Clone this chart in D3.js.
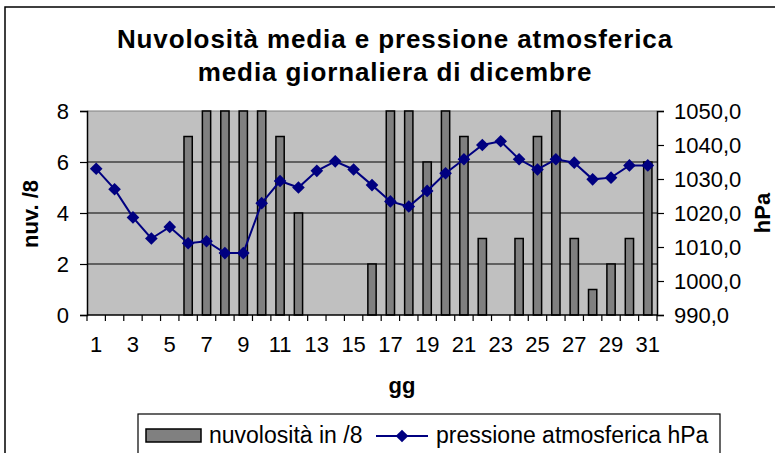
<!DOCTYPE html>
<html>
<head>
<meta charset="utf-8">
<script src="https://cdn.jsdelivr.net/npm/d3@7"></script>
<style>
  body { margin: 0; background: #fff; }
  text { font-family: "Liberation Sans", Arial, sans-serif; }
</style>
</head>
<body>
<script>
// day numbers, cloud cover (eighths) and mean pressure (hPa)
const days = d3.range(1, 32);
const clouds = [0, 0, 0, 0, 0, 7, 8, 8, 8, 8, 7, 4, 0, 0, 0, 2,
                8, 8, 6, 8, 7, 3, 0, 3, 7, 8, 3, 1, 2, 3, 6];
const pressure = [1033, 1027, 1018.7, 1012.5, 1015.9, 1011.1, 1011.7, 1008.2, 1008.2, 1022.9,
                  1029.4, 1027.5, 1032.4, 1035.2, 1032.8, 1028.2, 1023.4, 1021.9, 1026.5, 1031.7,
                  1035.8, 1040, 1041.1, 1035.8, 1032.8, 1035.8, 1034.8, 1029.9, 1030.4, 1034, 1034];
const leftTicks = [0, 2, 4, 6, 8];
const rightTicks = [990, 1000, 1010, 1020, 1030, 1040, 1050];

const W = 775, H = 453;
const plot = { left: 87, right: 657, top: 111, bottom: 315 };

const svg = d3.select("body").append("svg")
    .attr("width", W)
    .attr("height", H);

// outer chart border (runs off the right and bottom edges)
svg.append("rect")
    .attr("x", 5).attr("y", 7)
    .attr("width", 800).attr("height", 500)
    .attr("fill", "none").attr("stroke", "#000").attr("stroke-width", 1.5);

const x = d3.scaleBand()
    .domain(days)
    .range([plot.left, plot.right])
    .padding(0);

const y = d3.scaleLinear().domain([0, 8]).range([plot.bottom, plot.top]);
const y2 = d3.scaleLinear().domain([990, 1050]).range([plot.bottom, plot.top]);

// plot background
svg.append("rect")
    .attr("x", plot.left).attr("y", plot.top)
    .attr("width", plot.right - plot.left).attr("height", plot.bottom - plot.top)
    .attr("fill", "#c0c0c0");

// gridlines
svg.append("g")
    .selectAll("line")
    .data(leftTicks.slice(1))
    .enter().append("line")
    .attr("x1", plot.left).attr("x2", plot.right)
    .attr("y1", d => y(d)).attr("y2", d => y(d))
    .attr("stroke", d => d === 8 ? "#808080" : "#000")
    .attr("stroke-width", 1.2);

// bars
const barW = x.bandwidth() * 0.45;
svg.append("g")
    .selectAll("rect")
    .data(days.filter((d, i) => clouds[i] > 0))
    .enter().append("rect")
    .attr("x", d => x(d) + (x.bandwidth() - barW) / 2)
    .attr("y", d => y(clouds[d - 1]))
    .attr("width", barW)
    .attr("height", d => y(0) - y(clouds[d - 1]))
    .attr("fill", "#808080")
    .attr("stroke", "#000")
    .attr("stroke-width", 1.5);

// left axis
const axLeft = svg.append("g")
    .attr("transform", `translate(${plot.left},0)`)
    .call(d3.axisLeft(y).tickValues(leftTicks).tickSize(7).tickPadding(11));
// right axis
const axRight = svg.append("g")
    .attr("transform", `translate(${plot.right},0)`)
    .call(d3.axisRight(y2).tickValues(rightTicks).tickSize(7).tickPadding(10)
        .tickFormat(d => d3.format(".1f")(d).replace(".", ",")));
// bottom axis: labels on odd days
const axBottom = svg.append("g")
    .attr("transform", `translate(0,${plot.bottom})`)
    .call(d3.axisBottom(x).tickValues(days.filter(d => d % 2 === 1)).tickSize(0).tickPadding(21));

[axLeft, axRight, axBottom].forEach(g => {
    g.select(".domain").attr("stroke", "#000").attr("stroke-width", 1.5);
    g.selectAll(".tick line").attr("stroke", "#000").attr("stroke-width", 1.2);
    g.selectAll(".tick text").attr("font-size", 22).attr("fill", "#000")
        .style("font-family", "'Liberation Sans', Arial, sans-serif");
});
axBottom.select(".domain").attr("d", `M${plot.left},0H${plot.right}`);

// x tick marks between categories
svg.append("g")
    .selectAll("line")
    .data(days.map(d => x(d)).concat([plot.right]))
    .enter().append("line")
    .attr("x1", d => d).attr("x2", d => d)
    .attr("y1", plot.bottom).attr("y2", plot.bottom + 6)
    .attr("stroke", "#000").attr("stroke-width", 1.2);

// pressure line
const cx = d => x(d) + x.bandwidth() / 2;
svg.append("path")
    .datum(days)
    .attr("fill", "none")
    .attr("stroke", "#000080")
    .attr("stroke-width", 2)
    .attr("d", d3.line().x(cx).y(d => y2(pressure[d - 1])));

const diamond = d3.symbol().type(d3.symbolSquare).size(80);
svg.append("g")
    .selectAll("path")
    .data(days)
    .enter().append("path")
    .attr("d", diamond)
    .attr("transform", d => `translate(${cx(d)},${y2(pressure[d - 1])}) rotate(45)`)
    .attr("fill", "#000080");

// title
const title = svg.append("text")
    .attr("text-anchor", "middle")
    .attr("font-size", 26)
    .attr("font-weight", "bold")
    .attr("letter-spacing", 0.9);
title.append("tspan").attr("x", 395).attr("y", 48).text("Nuvolosità media e pressione atmosferica");
title.append("tspan").attr("x", 395).attr("y", 81).text("media giornaliera di dicembre");

// axis titles
svg.append("text")
    .attr("x", 402).attr("y", 393)
    .attr("text-anchor", "middle")
    .attr("font-size", 22).attr("font-weight", "bold")
    .text("gg");

svg.append("text")
    .attr("transform", "translate(38,214) rotate(-90)")
    .attr("text-anchor", "middle")
    .attr("font-size", 22).attr("font-weight", "bold")
    .text("nuv. /8");

svg.append("text")
    .attr("transform", "translate(770,213) rotate(-90)")
    .attr("text-anchor", "middle")
    .attr("font-size", 22).attr("font-weight", "bold")
    .text("hPa");

// legend
const legend = svg.append("g");
legend.append("rect")
    .attr("x", 138).attr("y", 414)
    .attr("width", 582).attr("height", 60)
    .attr("fill", "#fff").attr("stroke", "#000").attr("stroke-width", 1.2);
legend.append("rect")
    .attr("x", 146).attr("y", 429)
    .attr("width", 55).attr("height", 13)
    .attr("fill", "#808080").attr("stroke", "#000").attr("stroke-width", 1.5);
legend.append("text")
    .attr("x", 209).attr("y", 443)
    .attr("font-size", 23)
    .text("nuvolosità in /8");
legend.append("line")
    .attr("x1", 376).attr("x2", 428)
    .attr("y1", 436).attr("y2", 436)
    .attr("stroke", "#000080").attr("stroke-width", 2);
legend.append("path")
    .attr("d", diamond)
    .attr("transform", "translate(402,436) rotate(45)")
    .attr("fill", "#000080");
legend.append("text")
    .attr("x", 436).attr("y", 443)
    .attr("font-size", 23)
    .text("pressione atmosferica hPa");
</script>
</body>
</html>
